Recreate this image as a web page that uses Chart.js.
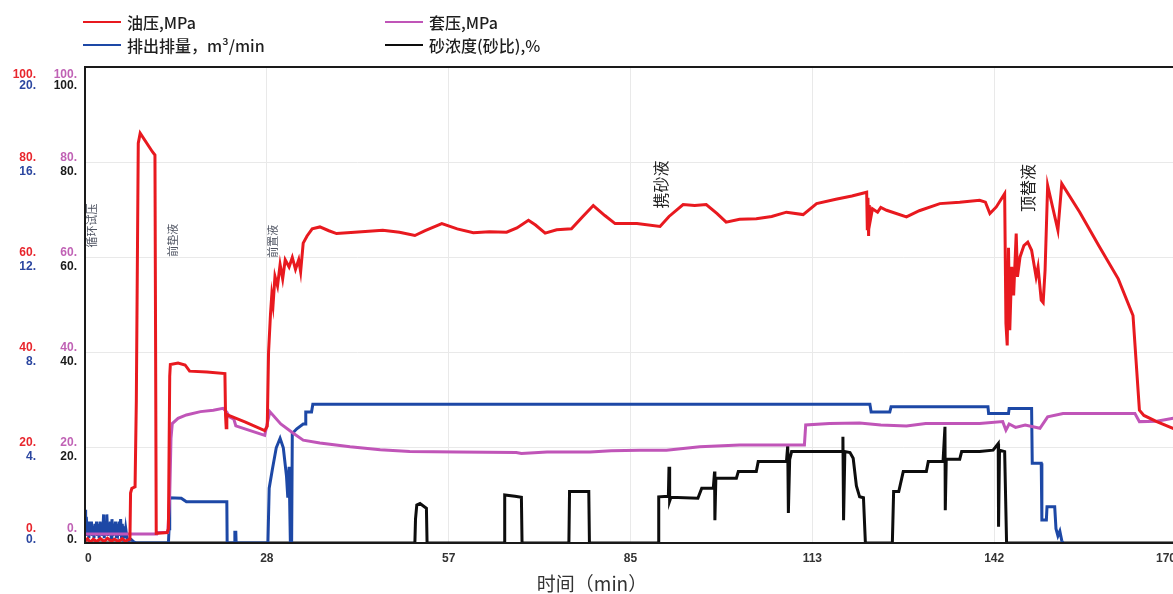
<!DOCTYPE html>
<html>
<head>
<meta charset="utf-8">
<script src="https://cdn.jsdelivr.net/npm/chart.js@4.4.1/dist/chart.umd.min.js"></script>
<style>
  html, body { margin: 0; padding: 0; background: #fff; overflow: hidden; width: 1173px; height: 594px; }
  #wrap { position: absolute; left: 0; top: 0; width: 1184px; height: 594px; }
  .key { position: absolute; height: 22px; display: flex; align-items: center; white-space: nowrap;
         font-family: "Noto Sans CJK SC", "Liberation Sans", sans-serif; font-size: 16px; font-weight: 500; color: #1e1e1e; }
  .key i { display: inline-block; width: 38px; height: 2px; margin-right: 6px; }
  #xtitle { position: absolute; left: 592px; top: 570px; transform: translateX(-50%); white-space: nowrap;
            font-family: "Noto Sans CJK SC", sans-serif; font-size: 19px; line-height: 26px; color: #333; }
</style>
</head>
<body>
<div id="wrap"><canvas id="c" width="1184" height="594"></canvas></div>
<div id="legend"></div>
<div id="xtitle">时间（min）</div>
<script>
// ---- time axis (min) ----
const timeTickLabels = ['0', '28', '57', '85', '113', '142', '170'];

// ---- left axis tick labels ----
const oilTickLabels  = ['0.', '20.', '40.', '60.', '80.', '100.'];
const casTickLabels  = ['0.', '20.', '40.', '60.', '80.', '100.'];
const rateTickLabels = ['0.', '4.', '8.', '12.', '16.', '20.'];
const sandTickLabels = ['0.', '20.', '40.', '60.', '80.', '100.'];

// ---- 油压, MPa ----
const oilTime = [0, 0.4, 0.8, 1.3, 1.8, 2.4, 3.0, 3.5, 4.1, 4.6, 5.2, 5.8, 6.3, 6.8, 7.0,
  7.1, 7.3, 7.8, 8.0, 8.3, 8.6, 10.5, 10.9, 11.1, 12.8, 13.0, 13.2, 13.3, 14.5, 15.6, 16.3, 19.0, 21.8,
  21.9, 22.0, 22.1, 22.4, 25.0, 28.0, 28.4, 28.6, 28.9, 29.1, 29.3, 29.6, 30.0, 30.4, 30.8, 31.2, 31.8,
  32.3, 32.8, 33.3, 33.6, 34.0, 34.6, 35.4, 36.6, 38.0, 39.2, 42.0, 46.4, 49.0, 51.4, 53.0, 55.6, 58.0,
  60.5, 63.0, 65.7, 67.3, 69.1, 70.2, 71.7, 73.5, 75.8, 77.5, 79.2, 81.0, 82.6, 86.0, 89.6, 91.0, 93.2,
  95.0, 96.8, 98.5, 99.9, 102.0, 104.6, 107.0, 109.3, 111.9, 114.0, 117.0, 119.5, 121.8, 121.9, 122.0,
  122.1, 122.2, 122.4, 122.7, 123.5, 124.0, 124.9, 128.0, 130.0, 133.2, 136.3, 139.4, 140.3, 141.0,
  142.0, 143.3, 143.5, 143.7, 143.9, 144.1, 144.4, 144.7, 145.1, 145.3, 145.7, 146.3, 146.9, 147.5,
  148.2, 148.5, 149.0, 149.3, 149.6, 150.0, 151.6, 152.2, 155.0, 158.0, 161.0, 163.3, 164.3,
  165.0, 167.0, 170.0];
const oilValue = [0.4, 0.9, 0.2, 0.8, 0.3, 0.9, 0.3, 1.0, 0.4, 0.8, 0.3, 0.9, 0.4, 0.7, 0.8,
  10.5, 11.5, 11.8, 30, 84, 86.1, 82.2, 81.5, 2.0, 2.2, 3.0, 35, 37.5, 37.8, 37.4, 36.1, 35.9, 35.6,
  26.8, 24.2, 27.0, 26.8, 25.4, 23.6, 24.5, 40, 48, 52, 50, 56, 54, 58.5, 55.5, 59.5, 58,
  60, 57.5, 59.5, 57, 63, 64.5, 66, 66.4, 65.6, 65.0, 65.3, 65.7, 65.3, 64.6, 65.6, 67.1, 66.0,
  65.2, 65.4, 65.3, 66.2, 67.8, 66.8, 65.1, 65.8, 66.0, 68.5, 70.9, 68.8, 67.1, 67.1, 66.5, 68.6, 71.1,
  70.9, 71.1, 69.2, 67.4, 68.0, 68.1, 68.6, 69.5, 69.0, 71.3, 72.2, 72.9, 73.7, 66, 72.5,
  64.5, 71, 68, 70.2, 69.5, 70.5, 69.9, 68.5, 69.8, 71.3, 71.6, 72.0, 71.6, 69.2,
  70.6, 73.4, 46.2, 41.5, 62, 44.7, 58, 52, 65, 55.9, 60.1, 62.5, 63.2, 61.5,
  55.9, 58, 51, 50.5, 57.3, 75.1, 65.7, 75.5, 69.5, 62.4, 55.5, 47.8, 27.9,
  26.8, 25.5, 23.8];

// ---- 套压, MPa ----
const casTime = [0, 11.2, 11.3, 12.9, 13.2, 13.4, 13.6, 14.5, 15.8, 18.0, 20.0, 21.5, 22.1, 22.5, 23.2,
  23.5, 28.0, 28.8, 30.5, 32.4, 34.0, 36.6, 41.3, 46.0, 50.6, 58.0, 67.2, 68.0, 72.0, 78.7, 82.0, 86.4,
  90.6, 95.8, 102.0, 112.1, 112.3, 116.0, 120.7, 124.0, 128.0, 131.0, 139.4, 143.0, 143.5, 144.0,
  145.0, 146.5, 148.8, 150.0, 152.4, 163.6, 164.3, 167.0, 170.0];
const casValue = [1.9, 1.9, 2.2, 2.2, 10, 22, 25.1, 26.2, 26.9, 27.6, 27.9, 28.3, 27.5, 26.5, 26.0,
  24.6, 22.6, 27.6, 25.0, 23.1, 21.6, 21.0, 20.2, 19.6, 19.2, 19.1, 19.0, 18.8, 19.1, 19.1, 19.4, 19.5,
  19.5, 20.2, 20.6, 20.6, 24.8, 25.1, 25.2, 24.8, 24.6, 25.1, 25.1, 25.5, 23.7, 25.0,
  24.3, 24.8, 24.1, 26.5, 27.2, 27.2, 25.5, 25.6, 26.3];

// ---- 排出排量, m³/min ----
const rateTime = [0, 0.1, 0.2, 0.35, 0.5, 0.6, 0.75, 0.9, 1.0, 1.15, 1.3, 1.4, 1.55, 1.7, 1.8, 1.95,
  2.1, 2.2, 2.35, 2.5, 2.6, 2.75, 2.9, 3.0, 3.15, 3.3, 3.4, 3.55, 3.7, 3.8, 3.95, 4.1, 4.2, 4.35, 4.5,
  4.6, 4.75, 4.9, 5.0, 5.15, 5.3, 5.4, 5.55, 5.7, 5.8, 5.95, 6.1, 6.2, 6.35, 6.5, 6.6, 6.8, 7.2, 7.6,
  8.0, 13.0, 13.1, 13.2, 15.0, 15.8, 22.1, 22.15, 23.3, 23.35,
  23.5, 23.55, 28.5, 28.7, 29.2, 29.8, 30.4, 30.9, 31.4, 31.6, 31.8, 32.0, 32.2, 32.3, 33.0, 34.0,
  34.3, 34.4, 35.3, 35.5, 122.3, 122.5, 125.4, 125.6, 140.7, 140.8, 143.9, 144.0, 147.5, 147.6,
  149.0, 149.1, 149.8, 149.9, 151.1, 151.3, 151.6, 151.9, 152.2, 152.4];
const rateValue = [1.4, 0.3, 1.1, 0.5, 0.9, 0.2, 0.8, 0.4, 0.9, 0.3, 0.7, 0.2, 0.8, 0.4, 0.9, 0.3,
  0.8, 0.2, 0.9, 0.5, 0.8, 0.3, 1.2, 0.2, 0.9, 0.4, 1.2, 0.3, 0.8, 0.5, 0.9, 0.2, 1.0, 0.3, 0.8,
  0.4, 0.9, 0.2, 0.8, 0.5, 0.9, 0.3, 1.0, 0.2, 0.8, 0.4, 0.7, 0.2, 0.6, 0.3, 0.2, 0.1, 0.15, 0.05,
  0, 0, 0.6, 1.9, 1.88, 1.73, 1.73, 0, 0, 0.45,
  0.45, 0, 0, 2.3, 3.1, 4.0, 4.4, 4.0, 2.8, 1.9, 3.2, 0, 0, 4.6, 4.8, 5.0,
  5.0, 5.5, 5.5, 5.83, 5.83, 5.5, 5.5, 5.72, 5.72, 5.44, 5.44, 5.65, 5.65, 3.35,
  3.35, 0.97, 0.97, 1.52, 1.52, 0.6, 0.3, 0.5, 0.1, 0];

// ---- 砂浓度(砂比), % ----
const sandTime = [0, 51.4, 51.5, 51.7, 52.2, 53.2, 53.3, 65.3, 65.4, 67.0, 68.0, 68.1, 75.4, 75.5,
  78.5, 78.6, 89.3, 89.4, 90.9, 91.0, 91.1, 91.3, 95.5, 96.1, 97.9, 98.1, 98.15, 98.3, 101.5, 101.8,
  104.6, 104.9, 109.3, 109.5, 109.6, 109.8, 110.1, 118.0, 118.1, 118.2, 118.4, 119.2, 119.7, 120.2,
  120.7, 121.3, 121.6, 125.8, 126.0, 126.8, 127.5, 131.1, 131.4, 133.7, 134.0, 134.05, 134.2, 136.3,
  136.6, 139.4, 141.5, 142.3, 142.35, 142.5, 143.3, 143.6, 170];
const sandValue = [0, 0, 5, 8.0, 8.3, 7.3, 0, 0, 10.1, 9.8, 9.6, 0, 0, 10.8,
  10.8, 0, 0, 9.7, 9.8, 16.0, 8.8, 9.6, 9.4, 11.5, 11.5, 15.0, 4.8, 13.6, 13.6, 15.0,
  15.0, 17.1, 17.1, 20.5, 6.3, 17.5, 19.2, 19.2, 22.3, 4.8, 19.2, 19.0, 17.8, 12,
  9.7, 9.5, 0, 0, 10.8, 10.8, 15.0, 15.0, 17.1, 17.1, 24.4, 6.9, 17.6, 17.6,
  19.2, 19.2, 19.5, 20.9, 3.4, 19.5, 19.2, 0, 0];

// ---- stage markers ----
const phaseNames = ['循环试压', '前垫液', '前置液', '携砂液', '顶替液'];
const phaseTime  = [1.1, 13.7, 29.3, 89.7, 146.9];
const phaseLevel = [66.7, 63.6, 63.4, 75.3, 74.6];

const series = [
  { label: '油压,MPa', color: '#e8191f', axis: 'yOil', t: oilTime, v: oilValue },
  { label: '套压,MPa', color: '#c055b8', axis: 'yCas', t: casTime, v: casValue },
  { label: '排出排量，m³/min', color: '#1d48a6', axis: 'yRate', t: rateTime, v: rateValue },
  { label: '砂浓度(砂比),%', color: '#0d0d0d', axis: 'ySand', t: sandTime, v: sandValue }
];

// legend, two columns
const legendPos = [[83, 11], [385, 11], [83, 34], [385, 34]];
const legendEl = document.getElementById('legend');
series.forEach((s, i) => {
  const d = document.createElement('div');
  d.className = 'key';
  d.style.left = legendPos[i][0] + 'px';
  d.style.top = legendPos[i][1] + 'px';
  const sw = document.createElement('i');
  sw.style.background = s.color;
  d.appendChild(sw);
  d.appendChild(document.createTextNode(s.label));
  legendEl.appendChild(d);
});

const tickFamily = '"Liberation Sans", Arial, sans-serif';
const measureCtx = document.createElement('canvas').getContext('2d');
measureCtx.font = 'bold 12px ' + tickFamily;
const widestOf = labels => Math.max(...labels.map(l => measureCtx.measureText(l).width));

// each left column holds two label rows per tick: an upper row and a lower row
function pairedLabel(text, lower, value, scale) {
  if (value === scale.max) return lower ? ['', '', '', text] : ['', '', text, ''];
  if (value === scale.min) return lower ? ['', text, '', ''] : [text, '', '', ''];
  return lower ? ['', text] : [text, ''];
}
const pairedFont = ctx => {
  const s = ctx.scale, v = ctx.tick ? ctx.tick.value : null;
  const edge = v === s.max || v === s.min;
  return { family: tickFamily, size: 12, weight: 'bold', lineHeight: edge ? 11 / 12 : 14 / 12 };
};
// upper-row axes own a box of the given width; lower-row axes have no width
// and write (mirrored) into the box just left of them, right-aligned at `gap` from its edge
function leftAxis(min, max, step, labels, lower, color, weight, width, gap, grid) {
  const ticks = {
    stepSize: step, autoSkip: false, labelOffset: 2, color, font: pairedFont,
    callback: function (value, index) { return pairedLabel(labels[index], lower, value, this); }
  };
  if (lower) {
    ticks.mirror = true;
    ticks.crossAlign = 'far';
    ticks.padding = -(gap + widestOf(labels));
  } else {
    ticks.padding = gap;
  }
  return {
    type: 'linear', position: 'left', min, max, weight,
    grid: { display: grid, color: '#e9e9e9', lineWidth: 1, drawTicks: false },
    border: { display: false },
    ticks,
    afterFit: scale => { scale.width = width; }
  };
}

const framePlugin = {
  id: 'frame',
  afterDatasetsDraw(chart) {
    const { ctx, chartArea: a } = chart;
    ctx.save();
    ctx.strokeStyle = '#1a1a1a';
    ctx.lineWidth = 2;
    ctx.strokeRect(a.left, a.top, a.right - a.left, a.bottom - a.top);
    ctx.restore();
  }
};

const phasePlugin = {
  id: 'phases',
  afterDatasetsDraw(chart) {
    const { ctx, scales } = chart;
    phaseNames.forEach((name, i) => {
      const minor = i < 3;
      const x = scales.x.getPixelForValue(phaseTime[i]);
      const y = scales.yOil.getPixelForValue(phaseLevel[i]);
      ctx.save();
      ctx.translate(x, y);
      ctx.rotate(-Math.PI / 2);
      ctx.font = minor ? '11px "Noto Sans CJK SC", sans-serif' : '16px "Noto Sans CJK SC", sans-serif';
      ctx.fillStyle = minor ? '#4d5260' : '#222';
      ctx.textAlign = 'center';
      ctx.textBaseline = 'middle';
      ctx.fillText(name, 0, 0);
      ctx.restore();
    });
  }
};

new Chart(document.getElementById('c'), {
  type: 'line',
  data: {
    datasets: series.map(s => ({
      label: s.label,
      data: s.t.map((t, i) => ({ x: t, y: s.v[i] })),
      yAxisID: s.axis,
      borderColor: s.color,
      backgroundColor: s.color,
      borderWidth: 3,
      pointRadius: 0,
      tension: 0,
      fill: false
    }))
  },
  options: {
    responsive: false,
    animation: false,
    layout: { padding: { top: 67, left: 0, right: 0, bottom: 0 } },
    plugins: { legend: { display: false }, tooltip: { enabled: false } },
    scales: {
      x: {
        type: 'linear', position: 'bottom', min: 0, max: 170,
        grid: { color: '#e9e9e9', lineWidth: 1, drawTicks: false },
        border: { display: false },
        afterBuildTicks: scale => {
          scale.ticks = timeTickLabels.map((l, i) => ({ value: i * 170 / (timeTickLabels.length - 1) }));
        },
        ticks: {
          autoSkip: false, maxRotation: 0, padding: 8, color: '#333', align: 'inner',
          font: { family: tickFamily, size: 12, weight: 'bold' },
          callback: (value, index) => timeTickLabels[index]
        },
        afterFit: scale => { scale.height = 51; }
      },
      yOil:  leftAxis(0, 100, 20, oilTickLabels,  false, '#e8262d', 4, 40, 4, true),
      yRate: leftAxis(0, 20, 4,   rateTickLabels, true,  '#2b46a0', 3, 0,  4, false),
      yCas:  leftAxis(0, 100, 20, casTickLabels,  false, '#c062b5', 2, 45, 8, false),
      ySand: leftAxis(0, 100, 20, sandTickLabels, true,  '#1a1a1a', 1, 0,  8, false)
    }
  },
  plugins: [framePlugin, phasePlugin]
});
</script>
</body>
</html>
